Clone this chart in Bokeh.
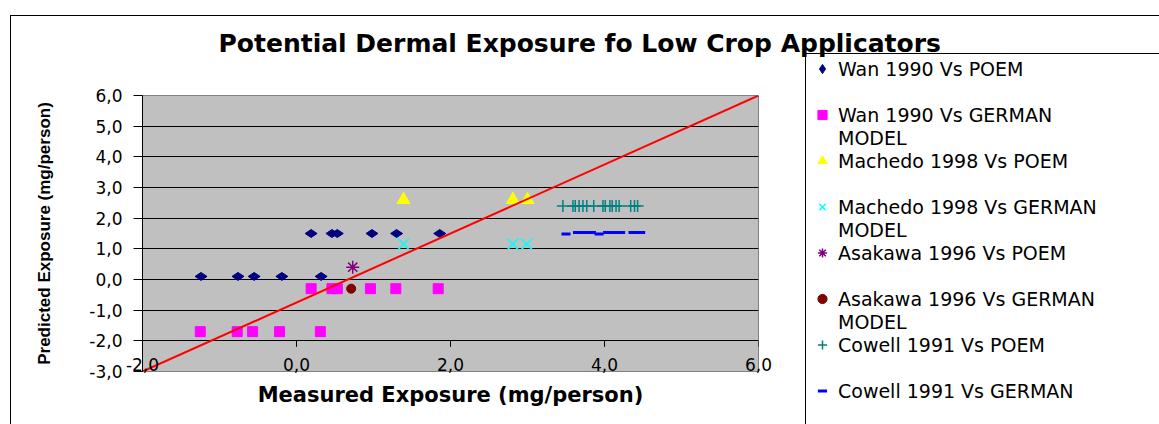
import math
from bokeh.plotting import figure
from bokeh.models import Range1d, FixedTicker, Legend, LegendItem, Title
from bokeh.embed import file_html
from bokeh.resources import INLINE

# ---------------- data ----------------
title_text = "Potential Dermal Exposure fo Low Crop Applicators"
x_axis_title = "Measured Exposure (mg/person)"
y_axis_title = "Predicted Exposure (mg/person)"

x_ticks = [-2, 0, 2, 4, 6]
x_tick_labels = ["-2,0", "0,0", "2,0", "4,0", "6,0"]
y_ticks = [-3, -2, -1, 0, 1, 2, 3, 4, 5, 6]
y_tick_labels = ["-3,0", "-2,0", "-1,0", "0,0", "1,0", "2,0", "3,0", "4,0", "5,0", "6,0"]
x_axis_cross = -2

wan_poem_x = [-1.24, -0.76, -0.55, -0.19, 0.32, 0.19, 0.46, 0.53, 0.98, 1.30, 1.86]
wan_poem_y = [0.1, 0.1, 0.1, 0.1, 0.1, 1.5, 1.5, 1.5, 1.5, 1.5, 1.5]

wan_german_x = [-1.25, -0.77, -0.57, -0.22, 0.31, 0.19, 0.46, 0.53, 0.96, 1.29, 1.84]
wan_german_y = [-1.7, -1.7, -1.7, -1.7, -1.7, -0.3, -0.3, -0.3, -0.3, -0.3, -0.3]

machedo_poem_x = [1.39, 2.81, 3.00]
machedo_poem_y = [2.6, 2.6, 2.6]

machedo_german_x = [1.39, 2.81, 2.99]
machedo_german_y = [1.15, 1.15, 1.15]

asakawa_poem_x = [0.73]
asakawa_poem_y = [0.4]

asakawa_german_x = [0.71]
asakawa_german_y = [-0.3]

cowell_poem_x = [3.46, 3.59, 3.62, 3.67, 3.72, 3.77, 3.86, 3.98, 4.01, 4.07, 4.10, 4.15, 4.19, 4.34, 4.39, 4.43]
cowell_poem_y = [2.4] * 16

cowell_german_x = [3.50, 3.65, 3.73, 3.83, 3.93, 4.04, 4.13, 4.21, 4.37, 4.47]
cowell_german_y = [1.48, 1.53, 1.53, 1.53, 1.48, 1.53, 1.53, 1.53, 1.53, 1.53]

ref_line_x = [-2, 6]
ref_line_y = [-3, 6]

series_names = [
    "Wan 1990 Vs POEM",
    "Wan 1990 Vs GERMAN\nMODEL",
    "Machedo 1998 Vs POEM",
    "Machedo 1998 Vs GERMAN\nMODEL",
    "Asakawa 1996 Vs POEM",
    "Asakawa 1996 Vs GERMAN\nMODEL",
    "Cowell 1991 Vs POEM",
    "Cowell 1991 Vs GERMAN",
]

# ---------------- figure ----------------
FONT = "DejaVu Sans"
ML, MT, FW, FH = 142, 95, 616, 276
MB = 53
XMIN, XMAX, YMIN, YMAX = -2, 6, -3, 6

# chart-area border and legend-box border (thin lines behind the transparent canvas)
border_css = {
    "background-image": ", ".join(["linear-gradient(#000000, #000000)"] * 4),
    "background-position": "10px 15px, 10px 15px, 805px 53px, 805px 53px",
    "background-size": "1px 3000px, 3000px 1px, 1px 3000px, 3000px 1px",
    "background-repeat": "no-repeat",
}

p = figure(width=None, height=None, frame_width=FW, frame_height=FH, title=None,
           x_range=Range1d(XMIN, XMAX), y_range=Range1d(YMIN, YMAX),
           output_backend="svg", toolbar_location=None,
           min_border_left=ML, min_border_right=0, min_border_top=MT, min_border_bottom=MB,
           background_fill_color="#C0C0C0", border_fill_color=None,
           outline_line_color="#808080", outline_line_width=1, styles=border_css)

# title: an empty spacer next to the plot area, the real title above it
p.add_layout(Title(text=" ", text_font_size="10px", standoff=25), "above")
p.add_layout(Title(text=title_text, text_font=FONT, text_font_style="bold",
                   text_font_size="25px", text_color="black", align="left",
                   offset=76, standoff=0), "above")

# x axis: labels pulled up into the plot area, its line drawn at y = -2 by the grid
xa = p.xaxis[0]
xa.ticker = FixedTicker(ticks=x_ticks)
xa.major_label_overrides = dict(zip(x_ticks, x_tick_labels))
xa.axis_line_color = None
xa.major_tick_line_color = None
xa.major_tick_out = 0
xa.major_tick_in = 0
xa.minor_tick_line_color = None
xa.major_label_standoff = -14
xa.major_label_text_font = FONT
xa.major_label_text_font_size = "17px"
xa.major_label_text_color = "black"
xa.axis_label = x_axis_title
xa.axis_label_text_font = FONT
xa.axis_label_text_font_style = "bold"
xa.axis_label_text_font_size = "21px"
xa.axis_label_text_color = "black"
xa.axis_label_standoff = 9

ya = p.yaxis[0]
ya.ticker = FixedTicker(ticks=y_ticks)
ya.major_label_overrides = dict(zip(y_ticks, y_tick_labels))
ya.axis_line_color = "black"
ya.major_tick_line_color = "black"
ya.major_tick_out = 9
ya.major_tick_in = 0
ya.minor_tick_line_color = None
ya.major_label_standoff = 11
ya.major_label_text_font = FONT
ya.major_label_text_font_size = "17px"
ya.major_label_text_color = "black"
ya.axis_label = y_axis_title
ya.axis_label_text_font = "Liberation Sans"
ya.axis_label_text_font_style = "bold"
ya.axis_label_text_font_size = "17px"
ya.axis_label_text_color = "black"
ya.axis_label_standoff = 32

p.xgrid.grid_line_color = None
p.ygrid.grid_line_color = "black"
p.ygrid.grid_line_width = 1

# x-axis tick marks hanging below the y = -2 crossing line
tick_len = 6 * (YMAX - YMIN) / FH
p.segment(x0=x_ticks, y0=[x_axis_cross] * len(x_ticks), x1=x_ticks,
          y1=[x_axis_cross - tick_len] * len(x_ticks), line_color="black", line_width=1)

# ---------------- series ----------------
r1 = p.scatter(wan_poem_x, wan_poem_y, marker="diamond", size=12, angle=math.pi / 2,
               fill_color="#000080", line_color="#000080")
r2 = p.scatter(wan_german_x, wan_german_y, marker="square", size=10,
               fill_color="#FF00FF", line_color="#FF00FF")
r3 = p.scatter(machedo_poem_x, machedo_poem_y, marker="triangle", size=13,
               fill_color="#FFFF00", line_color="#FFFF00")
r4 = p.scatter(machedo_german_x, machedo_german_y, marker="x", size=16,
               line_color="#00FFFF", line_width=1.5)
r5 = p.scatter(asakawa_poem_x, asakawa_poem_y, marker="asterisk", size=13,
               line_color="#800080", line_width=1.5)
r6 = p.scatter(asakawa_german_x, asakawa_german_y, marker="circle", size=9,
               fill_color="#800000", line_color="#800000")
r7 = p.scatter(cowell_poem_x, cowell_poem_y, marker="cross", size=12,
               line_color="#008080", line_width=1.5)
r8 = p.scatter(cowell_german_x, cowell_german_y, marker="dash", size=9,
               line_color="#0000FF", line_width=3)
p.line(ref_line_x, ref_line_y, line_color="#FF0000", line_width=2)

renderers = [r1, r2, r3, r4, r5, r6, r7, r8]

# ---------------- legend (two text rows per series slot) ----------------
SLOT = 23
items = []
for k, (name, r) in enumerate(zip(series_names, renderers)):
    parts = name.split("\n")
    items.append(LegendItem(label=parts[0], renderers=[r]))
    if k < len(series_names) - 1:
        items.append(LegendItem(label=parts[1] if len(parts) > 1 else " ", renderers=[]))

first_center = 68
legend_top = first_center - SLOT // 2
legend_h = len(items) * SLOT
legend_left = 807
legend = Legend(items=items, location=(legend_left - (ML + FW), (MT + FH) - (legend_top + legend_h)),
                glyph_width=30, glyph_height=SLOT, label_height=SLOT, spacing=0,
                padding=0, margin=0, border_line_alpha=0, background_fill_alpha=0,
                label_text_font=FONT, label_text_font_size="19px", label_text_color="black",
                label_standoff=1)
p.add_layout(legend, "right")

open("out.html", "w").write(file_html(p, INLINE))
